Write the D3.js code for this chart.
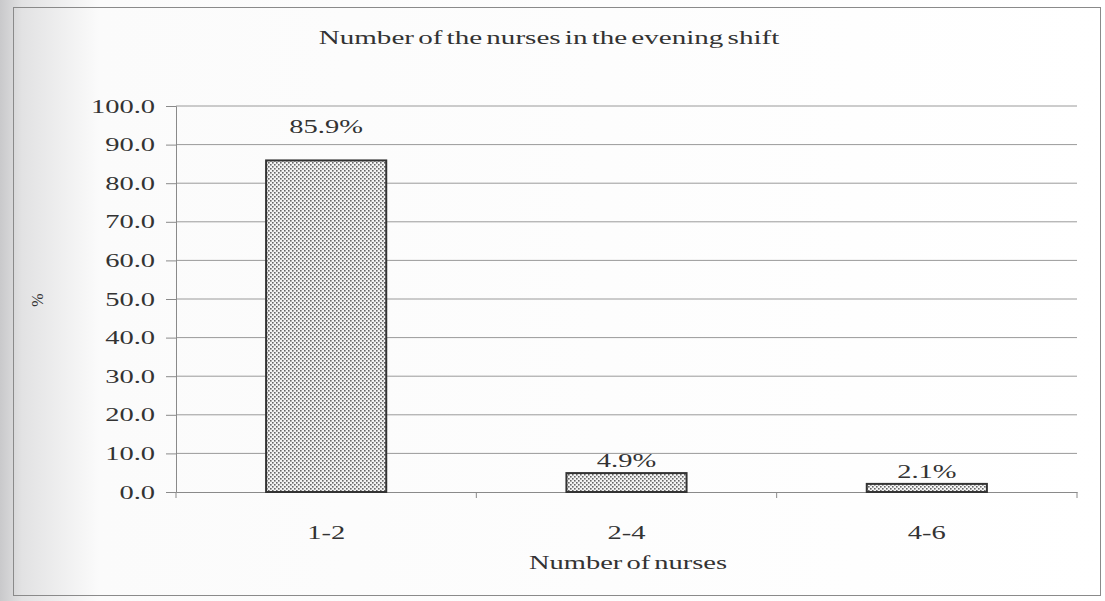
<!DOCTYPE html>
<html>
<head>
<meta charset="utf-8">
<script src="https://cdn.jsdelivr.net/npm/d3@7"></script>
<style>
  body { margin: 0; background: #fff; }
  text { font-family: "Liberation Serif", "DejaVu Serif", serif; fill: #333; }
</style>
</head>
<body>
<div id="chart"></div>
<script>
// chart values
const categories = ["1-2", "2-4", "4-6"];
const percents = [85.9, 4.9, 2.1];
const yTicks = [0, 10, 20, 30, 40, 50, 60, 70, 80, 90, 100];

const width = 1105, height = 601;
const margin = { top: 106, right: 28, bottom: 109, left: 176 };
const plotW = width - margin.left - margin.right;
const plotH = height - margin.top - margin.bottom;
const serif = '"Liberation Serif", "DejaVu Serif", serif';
const wide = 1.5; // the scanned chart is stretched sideways

// widen text glyphs to match the stretched scan
function stretch(sel, k) {
  sel.each(function() {
    const len = this.getComputedTextLength();
    d3.select(this)
      .attr("textLength", len * k)
      .attr("lengthAdjust", "spacingAndGlyphs");
  });
}

const svg = d3.select("#chart").append("svg")
  .attr("width", width)
  .attr("height", height);

const defs = svg.append("defs");

// scanned-page shading on the left edge
const grad = defs.append("linearGradient").attr("id", "scan")
  .attr("x1", "0").attr("x2", "1").attr("y1", "0").attr("y2", "0");
grad.append("stop").attr("offset", "0").attr("stop-color", "#c9c9cb");
grad.append("stop").attr("offset", "0.02").attr("stop-color", "#e2e2e3");
grad.append("stop").attr("offset", "0.09").attr("stop-color", "#fbfbfb");
grad.append("stop").attr("offset", "1").attr("stop-color", "#ffffff");

// dotted bar fill
const pat = defs.append("pattern").attr("id", "dots")
  .attr("width", 4).attr("height", 4)
  .attr("patternUnits", "userSpaceOnUse");
pat.append("rect").attr("width", 4).attr("height", 4).attr("fill", "#f4f4f4");
pat.append("rect").attr("x", 0).attr("y", 0).attr("width", 1.6).attr("height", 1.6).attr("fill", "#666");
pat.append("rect").attr("x", 2).attr("y", 2).attr("width", 1.6).attr("height", 1.6).attr("fill", "#666");

svg.append("rect")
  .attr("width", width).attr("height", height)
  .attr("fill", "url(#scan)");

// outer chart border
svg.append("rect")
  .attr("x", 13.5).attr("y", 7.5)
  .attr("width", 1087).attr("height", 588)
  .attr("fill", "none")
  .attr("stroke", "#8a8a8a")
  .attr("stroke-width", 1);

const g = svg.append("g")
  .attr("transform", `translate(${margin.left},${margin.top})`);

const x = d3.scaleBand()
  .domain(categories)
  .range([0, plotW])
  .paddingInner(0.6)
  .paddingOuter(0.3);

const y = d3.scaleLinear()
  .domain([0, 100])
  .range([plotH, 0]);

// gridlines
g.append("g")
  .selectAll("line")
  .data(yTicks.filter(d => d > 0))
  .join("line")
  .attr("x1", 0).attr("x2", plotW)
  .attr("y1", d => y(d)).attr("y2", d => y(d))
  .attr("stroke", "#9a9a9a")
  .attr("stroke-width", 1);

// y axis
const yAxis = g.append("g")
  .call(d3.axisLeft(y).tickValues(yTicks).tickFormat(d3.format(".1f")).tickSize(10).tickPadding(11));
yAxis.select(".domain").attr("stroke", "#8a8a8a");
yAxis.selectAll(".tick line").attr("stroke", "#8a8a8a");
yAxis.selectAll("text")
  .attr("fill", "#333")
  .style("font-family", serif)
  .style("font-size", "19px")
  .call(stretch, wide);

// x axis with ticks at category boundaries
const xAxis = g.append("g")
  .attr("transform", `translate(0,${plotH})`)
  .call(d3.axisBottom(x).tickSize(0).tickPadding(34));
xAxis.select(".domain").attr("stroke", "#8a8a8a");
xAxis.selectAll("text")
  .attr("fill", "#444")
  .style("font-family", serif)
  .style("font-size", "19px")
  .call(stretch, wide);

const step = x.step();
const bounds = categories.map((c, i) => x(c) - (step - x.bandwidth()) / 2).concat([plotW]);
g.append("g")
  .selectAll("line")
  .data(bounds)
  .join("line")
  .attr("x1", d => d).attr("x2", d => d)
  .attr("y1", plotH).attr("y2", plotH + 6)
  .attr("stroke", "#8a8a8a");

// bars
g.selectAll(".bar")
  .data(percents)
  .join("rect")
  .attr("class", "bar")
  .attr("x", (d, i) => x(categories[i]))
  .attr("y", d => y(d))
  .attr("width", x.bandwidth())
  .attr("height", d => plotH - y(d))
  .attr("fill", "url(#dots)")
  .attr("stroke", "#333")
  .attr("stroke-width", 2);

// value labels
g.selectAll(".val")
  .data(percents)
  .join("text")
  .attr("class", "val")
  .attr("x", (d, i) => x(categories[i]) + x.bandwidth() / 2)
  .attr("y", d => d > 50 ? y(d) - 27 : y(d) - 6)
  .attr("text-anchor", "middle")
  .style("font-size", "19px")
  .text(d => d.toFixed(1) + "%")
  .call(stretch, wide);

// title
svg.append("text")
  .attr("x", 549).attr("y", 44)
  .attr("text-anchor", "middle")
  .style("font-size", "19px")
  .style("word-spacing", "-2px")
  .text("Number of the nurses in the evening shift")
  .call(stretch, 1.53);

// axis titles
svg.append("text")
  .attr("x", 628).attr("y", 569)
  .attr("text-anchor", "middle")
  .style("font-size", "19px")
  .style("word-spacing", "-2px")
  .text("Number of nurses")
  .call(stretch, wide);

svg.append("text")
  .attr("transform", "translate(43,300) rotate(-90)")
  .attr("text-anchor", "middle")
  .style("font-size", "16px")
  .text("%");
</script>
</body>
</html>
